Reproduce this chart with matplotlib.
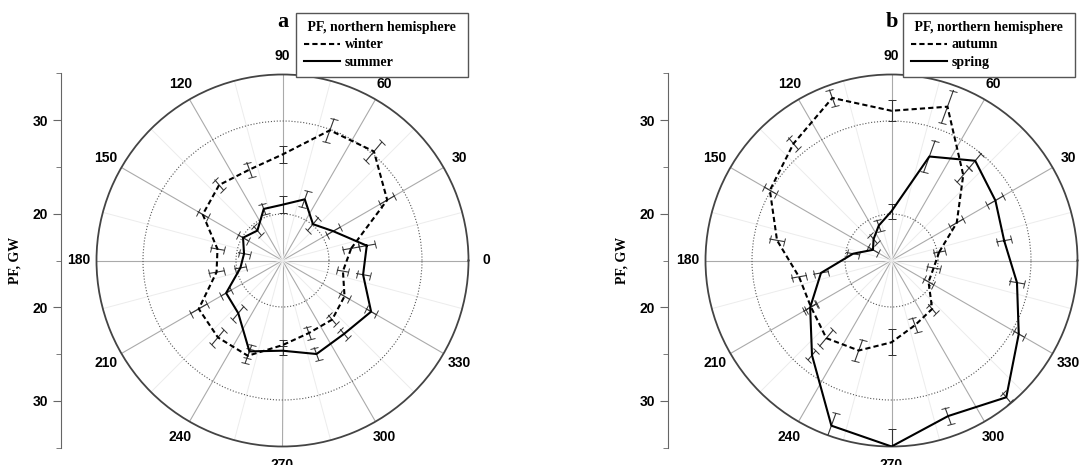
import numpy as np
import matplotlib
matplotlib.use('Agg')
import matplotlib.pyplot as plt
from matplotlib.markers import MarkerStyle
from matplotlib.transforms import Affine2D
from matplotlib.lines import Line2D

plt.rcParams['font.family'] = ['Liberation Sans', 'DejaVu Sans']

# direction of the wind sector, degrees
angles = [10, 30, 50, 70, 90, 110, 130, 150, 170, 190,
          210, 230, 250, 270, 290, 310, 330, 350]

# panel a
winter = [22.5, 28.0, 30.3, 29.9, 26.4, 25.4, 25.6, 24.9, 22.1, 22.2,
          25.4, 25.8, 25.9, 24.1, 23.3, 23.3, 22.7, 21.6]
winter_err = [0.9, 0.9, 1.3, 1.3, 0.9, 0.8, 0.7, 0.6, 0.7, 0.8,
              1.0, 1.0, 0.8, 0.5, 0.7, 0.6, 0.6, 0.6]
summer = [24.2, 21.3, 20.1, 22.0, 21.0, 20.9, 19.2, 19.9, 19.2, 19.6,
          22.0, 22.4, 25.4, 24.7, 25.7, 25.3, 26.0, 23.8]
summer_err = [0.9, 0.8, 0.9, 0.9, 0.9, 0.6, 0.6, 0.6, 0.6, 0.6,
              0.6, 0.9, 0.7, 0.5, 0.7, 0.6, 0.6, 0.7]

# panel b
autumn = [20.2, 23.1, 27.0, 32.6, 31.1, 33.6, 31.4, 30.1, 27.5, 25.1,
          25.0, 25.9, 25.3, 23.8, 22.4, 21.8, 19.6, 19.6]
autumn_err = [0.6, 0.8, 1.0, 1.85, 1.15, 0.9, 0.8, 0.7, 0.8, 0.8,
              0.6, 1.1, 1.2, 1.4, 0.8, 0.6, 0.6, 0.7]
spring = [27.3, 27.9, 29.0, 26.9, 20.3, 19.0, 18.0, 17.3, 19.2, 22.7,
          25.1, 28.3, 33.9, 35.0, 32.8, 34.2, 30.8, 28.7]
spring_err = [0.8, 1.0, 1.0, 1.8, 0.8, 0.6, 0.6, 0.6, 0.7, 0.8,
              0.8, 0.6, 1.4, 1.9, 0.9, 0.6, 0.6, 0.8]

r_min, r_max = 15, 35
angle_ticks = list(range(0, 360, 30))
side_ticks = [-15, -5, 5, 15]
side_labels = ['30', '20', '20', '30']

W, H = 1090, 465
R = 186
CY = 260.5


def box(left, top, w, h):
    return [left / W, 1 - (top + h) / H, w / W, h / H]


def draw_series(ax, vals, errs, ls):
    th = np.deg2rad(angles + angles[:1])
    ax.plot(th, vals + vals[:1], color='black', lw=1.5, ls=ls, zorder=4)
    for a, v, e in zip(angles, vals, errs):
        t = np.deg2rad(a)
        ax.plot([t, t], [v - e, v + e], color='#333333', lw=0.8, zorder=3)
        cap = MarkerStyle('_', transform=Affine2D().rotate_deg(a + 90))
        ax.plot([t, t], [v - e, v + e], ls='none', marker=cap, ms=6,
                mew=0.7, color='#333333', zorder=3)


def panel(cx, axis_x, tag, s1, e1, n1, s2, e2, n2, leg_x):
    ax = fig.add_axes(box(cx - R, CY - R, 2 * R, 2 * R), projection='polar')
    ax.set_rlim(r_min, r_max)
    ax.set_yticks([20, 30])
    ax.set_yticklabels([])
    ax.yaxis.grid(True, color='#555555', ls=':', lw=0.8)
    ax.set_thetagrids(angle_ticks, labels=[str(a) for a in angle_ticks],
                      fontsize=10, fontweight='bold')
    ax.xaxis.grid(True, color='#aaaaaa', lw=0.8)
    ax.set_xticks(np.deg2rad(np.array(angle_ticks) + 15), minor=True)
    ax.xaxis.grid(True, which='minor', color='#ececec', lw=0.7)
    ax.tick_params(axis='x', which='major', length=0, pad=6)
    ax.tick_params(axis='x', which='minor', direction='in', length=4,
                   color='#555555', width=0.8)
    ax.spines['polar'].set_color('#444444')
    ax.spines['polar'].set_linewidth(1.3)

    draw_series(ax, s1, e1, (0, (2.5, 1.5)))
    draw_series(ax, s2, e2, '-')

    # side scale
    sa = fig.add_axes(box(axis_x, CY - R - 1, 1, 2 * R + 2))
    sa.set_ylim(-20, 20)
    for s in ['right', 'top', 'bottom']:
        sa.spines[s].set_visible(False)
    sa.spines['left'].set_color('#666666')
    sa.set_xticks([])
    sa.set_yticks(side_ticks)
    sa.set_yticklabels(side_labels, fontsize=10, fontweight='bold')
    sa.set_yticks([-20, -10, 0, 10, 20], minor=True)
    sa.tick_params(axis='y', which='major', length=6, color='#666666')
    sa.tick_params(axis='y', which='minor', length=3.5, color='#666666')
    sa.patch.set_visible(False)
    sa.set_ylabel('PF, GW', family='Liberation Serif', fontweight='bold',
                  fontsize=10, labelpad=8)

    fig.text(cx / W, 1 - 22 / H, tag, family='Liberation Serif',
             fontweight='bold', fontsize=16, ha='center', va='center')

    handles = [Line2D([], [], color='black', lw=1.5, ls=(0, (2.5, 1.5))),
               Line2D([], [], color='black', lw=1.5)]
    leg = fig.legend(handles, [n1, n2], title=' PF, northern hemisphere ',
                     loc='upper left', bbox_to_anchor=(leg_x / W, 1 - 13 / H),
                     borderaxespad=0, fancybox=False, framealpha=1,
                     edgecolor='#555555', handlelength=2.6,
                     handletextpad=0.3, borderpad=0.6, labelspacing=0.3,
                     prop={'family': 'Liberation Serif', 'weight': 'bold',
                           'size': 10})
    leg.get_title().set_fontfamily('Liberation Serif')
    leg.get_title().set_fontweight('bold')
    leg.get_title().set_fontsize(10)
    leg.get_frame().set_linewidth(1.0)
    leg._legend_box.align = 'left'


fig = plt.figure(figsize=(10.9, 4.65), dpi=100)
panel(282.5, 61, 'a', winter, winter_err, 'winter',
      summer, summer_err, 'summer', 296)
panel(891.5, 668, 'b', autumn, autumn_err, 'autumn',
      spring, spring_err, 'spring', 903)

fig.savefig('out.png', dpi=100)
